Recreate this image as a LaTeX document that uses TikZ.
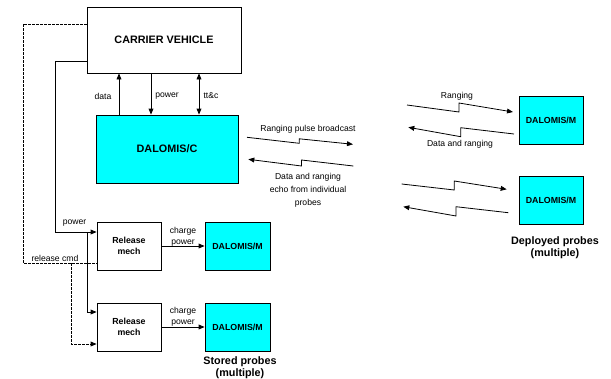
\documentclass[tikz,border=0pt]{standalone}
\usepackage{fontspec}
\setmainfont{Liberation Sans}
\usetikzlibrary{arrows.meta}
\definecolor{cyanbox}{RGB}{0,255,255}
\begin{document}
\begin{tikzpicture}[x=1pt,y=-1pt,
  every path/.style={line width=0.8pt},
  blk/.style={draw, line width=0.8pt, inner sep=0pt, fill=white},
  cy/.style={blk, fill=cyanbox},
  arr/.style={-{Triangle[length=6pt,width=4.8pt]}},
  darr/.style={{Triangle[length=6pt,width=4.8pt]}-{Triangle[length=6pt,width=4.8pt]}},
  dsh/.style={dash pattern=on 2.5pt off 1.5pt},
  lbl/.style={font=\fontsize{8.6}{10}\selectfont, inner sep=0pt, align=center},
  bigb/.style={font=\fontsize{10.8}{12.5}\selectfont\bfseries, align=center},
  smb/.style={font=\fontsize{8.8}{11}\selectfont\bfseries, align=center}]
\useasboundingbox (0,0) rectangle (611,378);

% boxes
\node[blk, minimum width=154pt, minimum height=66pt, bigb] (cv) at (164,40) {CARRIER VEHICLE};
\node[cy, minimum width=142pt, minimum height=68pt, bigb] (dc) at (167,149) {DALOMIS/C};
\node[blk, minimum width=64pt, minimum height=48pt, smb] (rm1) at (129,246) {Release\\mech};
\node[blk, minimum width=64pt, minimum height=48pt, smb] (rm2) at (129,327) {Release\\mech};
\node[cy, minimum width=65pt, minimum height=48pt, smb] (sm1) at (237.5,246) {DALOMIS/M};
\node[cy, minimum width=65pt, minimum height=48pt, smb] (sm2) at (237.5,327) {DALOMIS/M};
\node[cy, minimum width=64pt, minimum height=48pt, smb] (pm1) at (551,120) {DALOMIS/M};
\node[cy, minimum width=64pt, minimum height=48pt, smb] (pm2) at (551,200) {DALOMIS/M};

% carrier <-> DALOMIS/C
\coordinate (xd) at (119,0);
\coordinate (xp) at (151,0);
\coordinate (xt) at (199,0);
\draw[arr] (dc.north -| xd) -- (cv.south -| xd);
\draw[arr] (cv.south -| xp) -- (dc.north -| xp);
\draw[darr] (cv.south -| xt) -- (dc.north -| xt);
\node[lbl] (ldata) at (103,96) {data};
\node[lbl] (lpow) at (167,96) {power};
\node[lbl] (ltt) at (211,96) {tt\&c};

% power line
\coordinate (pw) at (55,61);
\coordinate (pj) at (55,232);
\coordinate (pb) at (87,232);
\coordinate (pb2) at (87,312);
\draw[arr] (cv.west |- pw) -- (pw) -- (pj) -- (rm1.west |- pj);
\draw[arr] (pb) -- (pb2) -- (rm2.west |- pb2);
\node[lbl] (lpw2) at (74.5,223) {power};

% release cmd
\coordinate (d1) at (23,24);
\coordinate (d2) at (23,263);
\coordinate (d3) at (71,263);
\coordinate (d4) at (71,344);
\draw[dsh] (cv.west |- d1) -- (d1) -- (d2) -- (rm1.west |- d2);
\draw[dsh,arr] (d3) -- (d4) -- (rm2.west |- d4);
\node[lbl] (lrc) at (55,258.5) {release cmd};

% charge power
\draw[arr] (rm1) -- (sm1);
\draw[arr] (rm2) -- (sm2);
\node[lbl, font=\fontsize{8.6}{11}\selectfont] (lc1) at (183,236.5) {charge\\power};
\node[lbl, font=\fontsize{8.6}{11}\selectfont] (lc2) at (183,317) {charge\\power};

% probe group labels
\node[bigb, inner sep=0pt, font=\fontsize{10.8}{12}\selectfont\bfseries] (stp) at (240,368) {Stored probes\\(multiple)};
\node[bigb, inner sep=0pt, font=\fontsize{10.8}{12}\selectfont\bfseries] (dpp) at (555,248) {Deployed probes\\(multiple)};

% ranging broadcast from DALOMIS/C
\coordinate (a1) at (247,137.3);
\coordinate (a2) at (299.3,143.3);
\coordinate (a3) at (299.3,138.8);
\coordinate (a4) at (353,144.3);
\draw[arr] (a1) -- (a2) -- (a3) -- (a4);
\node[lbl] (lrpb) at (308,129) {Ranging pulse broadcast};
\coordinate (b1) at (353.3,166);
\coordinate (b2) at (301.5,160);
\coordinate (b3) at (301.5,166);
\coordinate (b4) at (248.3,159.3);
\draw[arr] (b1) -- (b2) -- (b3) -- (b4);
\node[lbl, font=\fontsize{8.6}{13}\selectfont] (ldr) at (308,190) {Data and ranging\\echo from individual\\probes};

% deployed probe 1 links
\coordinate (c1) at (407,105);
\coordinate (c2) at (459,112);
\coordinate (c3) at (459,103);
\coordinate (c4) at (513,112);
\draw[arr] (c1) -- (c2) -- (c3) -- (c4);
\node[lbl] (lrg) at (457,96) {Ranging};
\coordinate (e1) at (514,134);
\coordinate (e2) at (460.7,127.7);
\coordinate (e3) at (460.7,136.7);
\coordinate (e4) at (408.3,127.3);
\draw[arr] (e1) -- (e2) -- (e3) -- (e4);
\node[lbl] (ldar) at (460,144) {Data and ranging};

% deployed probe 2 links
\coordinate (f1) at (401.7,184);
\coordinate (f2) at (454.3,190);
\coordinate (f3) at (454.3,181);
\coordinate (f4) at (506.7,189.3);
\draw[arr] (f1) -- (f2) -- (f3) -- (f4);
\coordinate (g1) at (508.3,212.7);
\coordinate (g2) at (456,206.7);
\coordinate (g3) at (456,216);
\coordinate (g4) at (403.3,206.7);
\draw[arr] (g1) -- (g2) -- (g3) -- (g4);
\end{tikzpicture}
\end{document}
